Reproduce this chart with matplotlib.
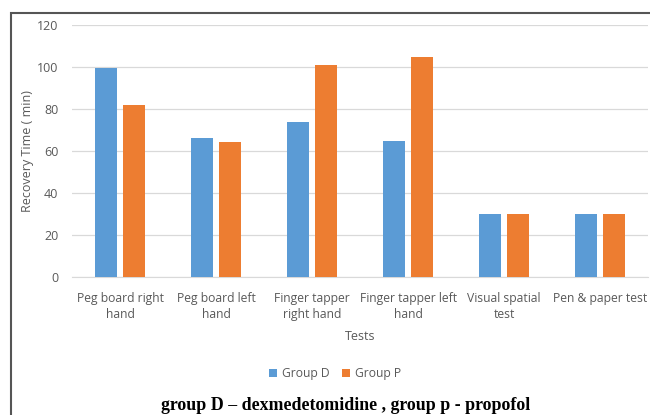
import numpy as np
import matplotlib
matplotlib.use('Agg')
import matplotlib.pyplot as plt
from matplotlib.patches import Rectangle

# recovery times
tests = ['Peg board right\nhand', 'Peg board left\nhand', 'Finger tapper\nright hand',
         'Finger tapper left\nhand', 'Visual spatial\ntest', 'Pen & paper test']
group_d = [99.5, 66, 74, 65, 30, 30]
group_p = [82, 64.5, 101, 105, 30, 30]

blue = '#5b9bd5'
orange = '#ed7d31'
grey = '#595959'

plt.rcParams['font.family'] = ['Open Sans', 'DejaVu Sans']

fig = plt.figure(figsize=(6.5, 4.15), dpi=100)
ax = fig.add_axes([0.111, 0.3325, 0.886, 0.607])

# outer frame, runs off the right and bottom edges
fig.patches.append(Rectangle((11 / 650, -0.05), 1.0, 1 - 13 / 415 + 0.05,
                             transform=fig.transFigure, fill=False,
                             edgecolor='#555555', linewidth=1.5))

x = np.arange(len(tests))
w = 0.23
ax.bar(x - 0.145, group_d, w, color=blue, label='Group D', zorder=3)
ax.bar(x + 0.145, group_p, w, color=orange, label='Group P', zorder=3)

ax.set_xlim(-0.5, len(tests) - 0.5)
ax.set_ylim(0, 120)
ax.set_yticks(np.arange(0, 121, 20))
ax.set_xticks(x)
ax.set_xticklabels(tests, fontsize=8.7, color=grey, linespacing=1.3)
ax.tick_params(axis='y', labelsize=9, labelcolor=grey, length=0, pad=10)
ax.tick_params(axis='x', length=0, pad=11)
ax.grid(axis='y', color='#d9d9d9', linewidth=0.9, zorder=0)
for s in ['top', 'right', 'left']:
    ax.spines[s].set_visible(False)
ax.spines['bottom'].set_color('#d9d9d9')

ax.set_ylabel('Recovery Time ( min)', fontsize=9, color=grey, labelpad=2)
ax.set_xlabel('Tests', fontsize=9, color=grey, labelpad=6)

fig.legend(loc='center', bbox_to_anchor=(0.515, 0.1), ncol=2, frameon=False,
           fontsize=8.7, labelcolor=grey, handlelength=0.7, handleheight=0.7,
           handletextpad=0.4, columnspacing=1.0)

fig.text(0.532, 0.024, 'group D \u2013 dexmedetomidine , group p - propofol',
         ha='center', va='center', fontsize=12.9, fontweight='bold',
         family='Liberation Serif')

fig.savefig('out.png', dpi=100)
